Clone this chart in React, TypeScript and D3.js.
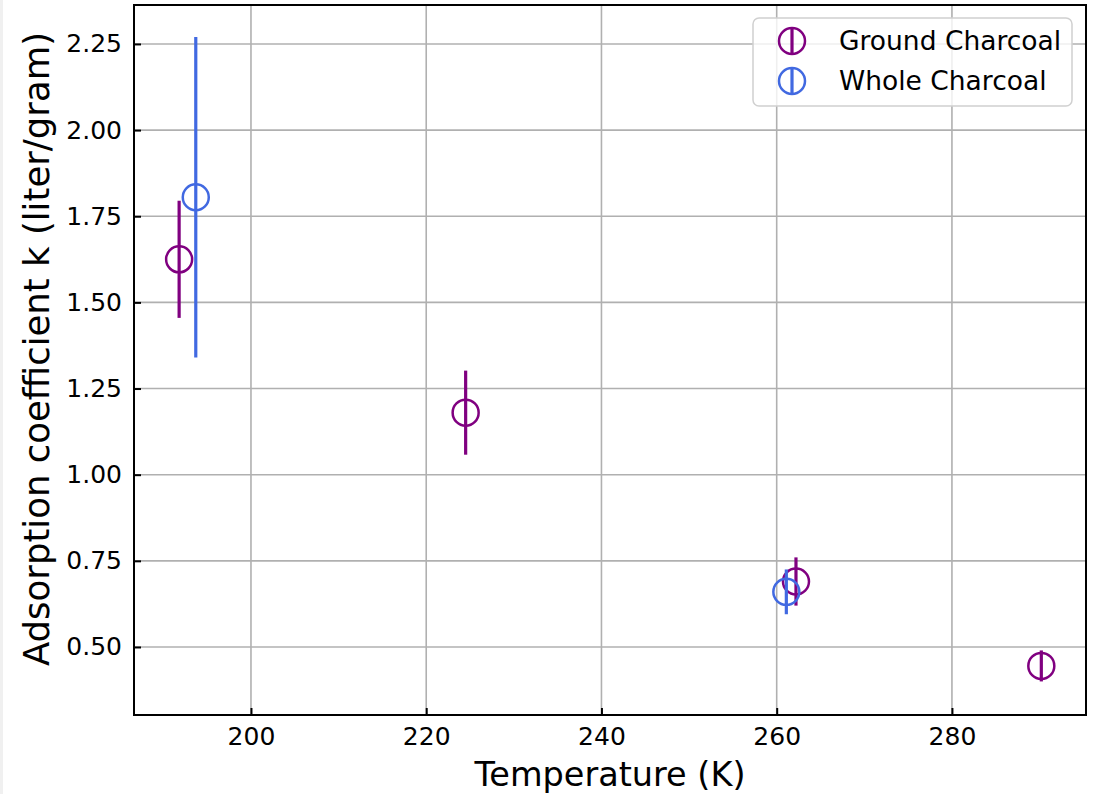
import React, { useEffect, useRef } from "react";
import * as d3 from "d3";

// ---- data ----
const groundTemps = [191.8, 224.5, 262.2, 290.2];
const groundK = [1.625, 1.18, 0.69, 0.445];
const groundErr = [0.17, 0.122, 0.07, 0.045];

const wholeTemps = [193.7, 261.1];
const wholeK = [1.805, 0.66];
const wholeErr = [0.465, 0.065];

const xTicks = [200, 220, 240, 260, 280];
const yTicks = [0.5, 0.75, 1.0, 1.25, 1.5, 1.75, 2.0, 2.25];

const seriesNames = ["Ground Charcoal", "Whole Charcoal"];
const seriesColors = ["#800080", "#4169e1"];

const FONT = "DejaVu Sans, sans-serif";

export default function App() {
  const ref = useRef<SVGSVGElement>(null);

  useEffect(() => {
    const width = 1099;
    const height = 794;
    const margin = { top: 5, right: 13, bottom: 79, left: 134 };
    const innerW = width - margin.left - margin.right;
    const innerH = height - margin.top - margin.bottom;

    const svg = d3.select(ref.current);
    svg.selectAll("*").remove();

    svg.append("rect").attr("width", width).attr("height", height).attr("fill", "#fff");
    svg.append("rect").attr("width", 3).attr("height", height).attr("fill", "#f0f0f0");

    const g = svg.append("g").attr("transform", `translate(${margin.left},${margin.top})`);

    const x = d3.scaleLinear().domain([186.65, 295.3]).range([0, innerW]);
    const y = d3.scaleLinear().domain([0.3026, 2.363]).range([innerH, 0]);

    // grid
    g.append("g")
      .selectAll("line")
      .data(xTicks)
      .join("line")
      .attr("x1", (d) => x(d))
      .attr("x2", (d) => x(d))
      .attr("y1", 0)
      .attr("y2", innerH)
      .attr("stroke", "#b0b0b0")
      .attr("stroke-width", 1.6);
    g.append("g")
      .selectAll("line")
      .data(yTicks)
      .join("line")
      .attr("y1", (d) => y(d))
      .attr("y2", (d) => y(d))
      .attr("x1", 0)
      .attr("x2", innerW)
      .attr("stroke", "#b0b0b0")
      .attr("stroke-width", 1.6);

    // axes (ticks inward)
    const xAxis = g
      .append("g")
      .attr("transform", `translate(0,${innerH})`)
      .call(d3.axisBottom(x).tickValues(xTicks).tickSize(-7).tickPadding(12).tickFormat(d3.format("d")));
    const yAxis = g
      .append("g")
      .call(d3.axisLeft(y).tickValues(yTicks).tickSize(-7).tickPadding(12).tickFormat(d3.format(".2f")));
    [xAxis, yAxis].forEach((ax) => {
      ax.select(".domain").remove();
      ax.selectAll("line").attr("stroke", "#000").attr("stroke-width", 2);
      ax.selectAll("text").attr("font-family", FONT).attr("font-size", 25).attr("fill", "#000");
    });

    // data
    const drawSeries = (temps: number[], ks: number[], errs: number[], color: string) => {
      const s = g.append("g");
      temps.forEach((t, i) => {
        s.append("line")
          .attr("x1", x(t))
          .attr("x2", x(t))
          .attr("y1", y(ks[i] - errs[i]))
          .attr("y2", y(ks[i] + errs[i]))
          .attr("stroke", color)
          .attr("stroke-width", 3.2);
        s.append("circle")
          .attr("cx", x(t))
          .attr("cy", y(ks[i]))
          .attr("r", 13)
          .attr("fill", "none")
          .attr("stroke", color)
          .attr("stroke-width", 2.5);
      });
    };
    drawSeries(groundTemps, groundK, groundErr, seriesColors[0]);
    drawSeries(wholeTemps, wholeK, wholeErr, seriesColors[1]);

    // frame
    g.append("rect")
      .attr("width", innerW)
      .attr("height", innerH)
      .attr("fill", "none")
      .attr("stroke", "#000")
      .attr("stroke-width", 2);

    // axis labels
    svg.append("text")
      .attr("x", margin.left + innerW / 2)
      .attr("y", 786)
      .attr("text-anchor", "middle")
      .attr("font-family", FONT)
      .attr("font-size", 33.5)
      .text("Temperature (K)");
    svg.append("text")
      .attr("transform", `translate(49,${349}) rotate(-90)`)
      .attr("text-anchor", "middle")
      .attr("font-family", FONT)
      .attr("font-size", 35.5)
      .text("Adsorption coefficient k (liter/gram)");

    // legend
    const legend = svg.append("g").attr("transform", "translate(753,18)");
    legend.append("rect")
      .attr("width", 319)
      .attr("height", 88)
      .attr("rx", 6)
      .attr("fill", "rgba(255,255,255,0.8)")
      .attr("stroke", "#d0d0d0")
      .attr("stroke-width", 1.5);
    seriesNames.forEach((name, i) => {
      const row = legend.append("g").attr("transform", `translate(0,${23 + i * 40})`);
      row.append("line")
        .attr("x1", 39).attr("x2", 39).attr("y1", -13).attr("y2", 13)
        .attr("stroke", seriesColors[i]).attr("stroke-width", 3.2);
      row.append("circle")
        .attr("cx", 39).attr("cy", 0).attr("r", 13)
        .attr("fill", "none").attr("stroke", seriesColors[i]).attr("stroke-width", 2.5);
      row.append("text")
        .attr("x", 86).attr("y", 9)
        .attr("font-family", FONT).attr("font-size", 26.5)
        .text(name);
    });
  }, []);

  return (
    <div style={{ position: "absolute", left: 0, top: 0 }}>
      <svg ref={ref} width={1099} height={794} style={{ display: "block" }} />
    </div>
  );
}
